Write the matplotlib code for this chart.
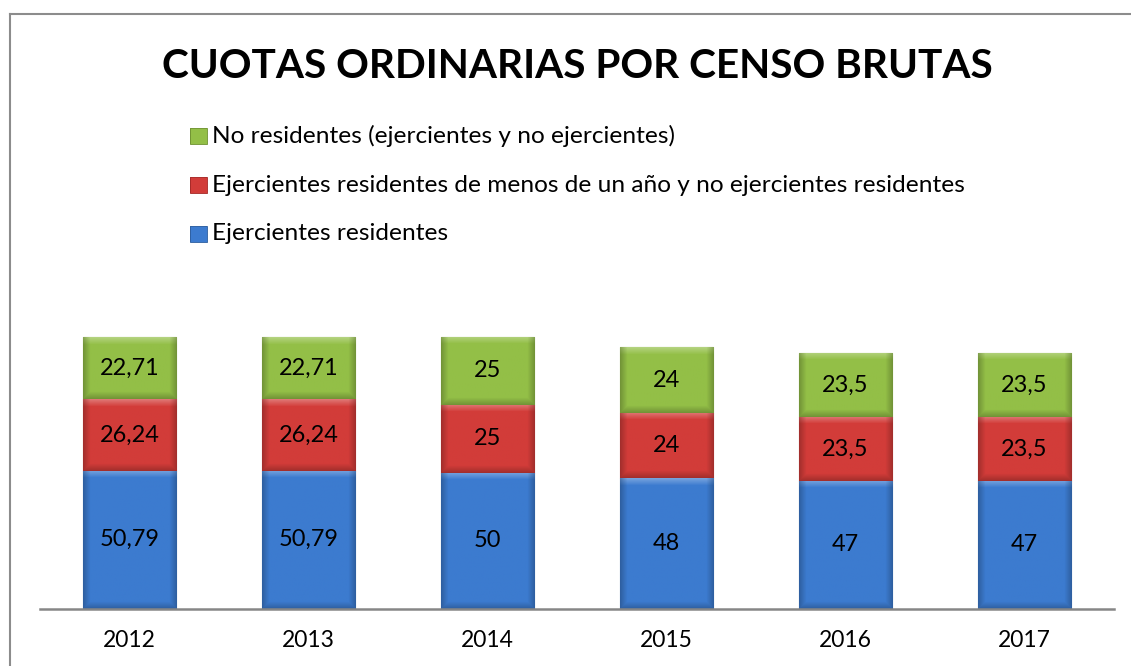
import numpy as np
import matplotlib.pyplot as plt
import matplotlib.colors as mcolors
from matplotlib.lines import Line2D
from matplotlib.patches import Rectangle

# data
years = ["2012", "2013", "2014", "2015", "2016", "2017"]
ejercientes = [50.79, 50.79, 50, 48, 47, 47]
menos_un_ano = [26.24, 26.24, 25, 24, 23.5, 23.5]
no_residentes = [22.71, 22.71, 25, 24, 23.5, 23.5]
labels_ejer = ["50,79", "50,79", "50", "48", "47", "47"]
labels_menos = ["26,24", "26,24", "25", "24", "23,5", "23,5"]
labels_no = ["22,71", "22,71", "25", "24", "23,5", "23,5"]

series_names = [
    "Ejercientes residentes",
    "Ejercientes residentes de menos de un año y no ejercientes residentes",
    "No residentes (ejercientes y no ejercientes)",
]
colors = ["#3c7bcf", "#d23c39", "#93bf47"]
edges = ["#2f5f9f", "#a52a28", "#6f9232"]

plt.rcParams["font.family"] = ["Lato", "DejaVu Sans"]

W, H = 1131, 666
fig = plt.figure(figsize=(W / 100, H / 100), dpi=100)
renderer = fig.canvas.get_renderer()


def fit_size(text, target_px, base=20, **kw):
    # font size that makes text about target_px wide
    t = fig.text(0, 0, text, fontsize=base, **kw)
    w = t.get_window_extent(renderer).width
    t.remove()
    return base * target_px / w


title_fs = fit_size("CUOTAS ORDINARIAS POR CENSO BRUTAS", 831, fontweight="bold")
legend_fs = fit_size("Ejercientes residentes", 236)
value_fs = fit_size("50,79", 60)
year_fs = fit_size("2012", 53)

# axes placed in pixel units
left, right, bottom, top = 40, 1114, 609, 282
ax = fig.add_axes([left / W, (H - bottom) / H, (right - left) / W, (bottom - top) / H])
px_per_unit = (bottom - top) / 120


def bevel(color, w_px, h_px, band=7):
    # simple bevel shading: light top edge, darker sides/bottom
    base = np.array(mcolors.to_rgb(color))
    nx, ny = max(int(w_px), 2), max(int(h_px), 2)
    xx = np.arange(nx)[None, :]
    yy = np.arange(ny)[:, None]
    dl = np.minimum(xx, nx - 1 - xx) / band
    dt = yy / band
    db = (ny - 1 - yy) / band
    side = np.clip(1 - np.minimum(dl, db), 0, 1)
    topl = np.clip(1 - dt, 0, 1)
    img = np.ones((ny, nx, 3)) * base
    img = img * (1 - 0.22 * side[..., None])
    img = img + (1 - img) * 0.3 * topl[..., None] * (1 - side[..., None] * 0.5)
    return np.clip(img, 0, 1)


x = np.arange(len(years))
width = 0.52
vals = [ejercientes, menos_un_ano, no_residentes]
labs = [labels_ejer, labels_menos, labels_no]
base = np.zeros(len(years))
for v, lab, c, e, name in zip(vals, labs, colors, edges, series_names):
    bars = ax.bar(x, v, width, bottom=base, color=c, edgecolor=e, linewidth=0.8, label=name)
    for b in bars:
        bx, by = b.get_x(), b.get_y()
        bw, bh = b.get_width(), b.get_height()
        img = bevel(c, bw * (right - left) / len(years), bh * px_per_unit)
        im = ax.imshow(img, extent=(bx, bx + bw, by, by + bh), origin="upper",
                       aspect="auto", zorder=b.get_zorder() + 0.1, interpolation="bilinear")
        im.set_clip_path(b)
    ax.bar_label(bars, labels=lab, label_type="center", fontsize=value_fs, color="black", zorder=5)
    base = base + np.array(v)

ax.set_xlim(-0.5, len(years) - 0.5)
ax.set_ylim(0, 120)
ax.set_xticks(x)
ax.set_xticklabels(years, fontsize=year_fs)
ax.tick_params(axis="x", length=0, pad=15)
ax.set_yticks([])
for s in ["left", "right", "top"]:
    ax.spines[s].set_visible(False)
ax.spines["bottom"].set_color("#868686")
ax.spines["bottom"].set_linewidth(1.8)
ax.spines["bottom"].set_zorder(6)

fig.text(577.5 / W, 1 - 66 / H, "CUOTAS ORDINARIAS POR CENSO BRUTAS",
         ha="center", va="center", fontsize=title_fs, fontweight="bold")

# legend drawn by hand, top entry is the last series
row_y = [136, 185, 234]
lax = fig.add_axes([0, 0, 1, 1], zorder=-1)
lax.set_xlim(0, W)
lax.set_ylim(H, 0)
lax.axis("off")
for i, k in enumerate([2, 1, 0]):
    y = row_y[i]
    sq = Rectangle((190, y - 8), 17, 16, facecolor=colors[k], edgecolor=edges[k], linewidth=0.6)
    lax.add_patch(sq)
    im = lax.imshow(bevel(colors[k], 17, 16, band=3), extent=(190, 207, y + 8, y - 8),
                    aspect="auto", interpolation="bilinear")
    im.set_clip_path(sq)
    lax.text(212, y, series_names[k], ha="left", va="center", fontsize=legend_fs)
lax.set_xlim(0, W)
lax.set_ylim(H, 0)

# chart frame (only left and top edges visible)
fig.add_artist(Line2D([10 / W, 10 / W], [0, 1 - 14 / H], color="#8c8c8c", lw=1.5))
fig.add_artist(Line2D([10 / W, 1], [1 - 14 / H, 1 - 14 / H], color="#8c8c8c", lw=1.5))

fig.savefig("out.png", dpi=100)
